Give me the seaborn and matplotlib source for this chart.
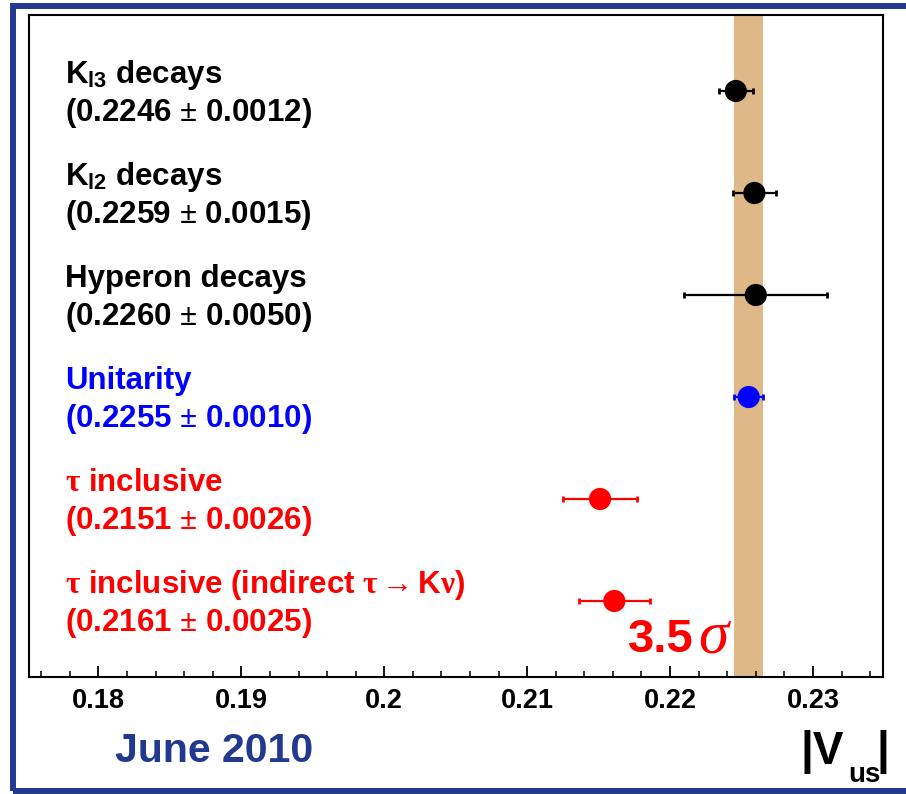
import matplotlib
matplotlib.use("Agg")
import matplotlib.pyplot as plt
import matplotlib.patches as mpatches
import matplotlib.transforms as mtransforms
from matplotlib.ticker import MultipleLocator, FixedLocator, FixedFormatter
import seaborn as sns
import pandas as pd

# ---- data ----
titles = [r"K$_{\mathregular{l3}}$ decays", r"K$_{\mathregular{l2}}$ decays",
          "Hyperon decays", "Unitarity",
          r"$\tau$ inclusive", r"$\tau$ inclusive (indirect $\tau\rightarrow$K$\nu$)"]
values = [0.2246, 0.2259, 0.2260, 0.2255, 0.2151, 0.2161]
errors = [0.0012, 0.0015, 0.0050, 0.0010, 0.0026, 0.0025]
groups = ["direct", "direct", "direct", "unitarity", "tau", "tau"]
group_colors = {"direct": "black", "unitarity": "#0000ff", "tau": "#ff0000"}
band_center, band_halfwidth = 0.2255, 0.0010
xticks = [0.18, 0.19, 0.20, 0.21, 0.22, 0.23]
xtick_labels = ["0.18", "0.19", "0.2", "0.21", "0.22", "0.23"]

rows = list(range(len(values)))
df = pd.DataFrame({"value": values, "err": errors, "row": rows, "group": groups})

sns.set_theme(style="ticks")
plt.rcParams["font.family"] = ["Liberation Sans", "DejaVu Sans"]
plt.rcParams["font.weight"] = "bold"
plt.rcParams["mathtext.fontset"] = "custom"
plt.rcParams["mathtext.rm"] = "Liberation Serif"
plt.rcParams["mathtext.it"] = "Liberation Serif:italic"
plt.rcParams["mathtext.bf"] = "Liberation Sans:bold"
plt.rcParams["mathtext.default"] = "rm"

fig = plt.figure(figsize=(9.06, 7.94), dpi=100)
ax = fig.add_axes([29 / 906, 1 - 677 / 794, (883 - 29) / 906, (677 - 15) / 794])

# unitarity band
ax.axvspan(band_center - band_halfwidth, band_center + band_halfwidth,
           color="burlywood", lw=0, zorder=0)

# error bars
for _, r in df.iterrows():
    ax.errorbar(r["value"], r["row"], xerr=r["err"], fmt="none",
                ecolor=group_colors[r["group"]], elinewidth=1.6,
                capsize=2.2, capthick=2.0, zorder=2)

sns.scatterplot(data=df, x="value", y="row", hue="group", palette=group_colors,
                s=255, linewidth=0, legend=False, ax=ax, zorder=3)

ax.set_xlim(0.17514, 0.23490)
ax.set_ylim(5.745, -0.745)
ax.set_xlabel("")
ax.set_ylabel("")
ax.set_yticks([])
ax.xaxis.set_major_locator(FixedLocator(xticks))
ax.xaxis.set_major_formatter(FixedFormatter(xtick_labels))
ax.xaxis.set_minor_locator(MultipleLocator(0.002))
ax.tick_params(axis="x", which="major", direction="in", length=8, width=1.3,
               bottom=True, top=False, pad=8, labelsize=19.5, colors="black")
ax.tick_params(axis="x", which="minor", direction="in", length=4, width=1.1,
               bottom=True, top=False, colors="black")
ax.tick_params(axis="y", left=False, right=False)
for lbl in ax.get_xticklabels():
    lbl.set_fontweight("bold")
for sp in ax.spines.values():
    sp.set_visible(True)
    sp.set_color("black")
    sp.set_linewidth(1.5)

# labels
label_x = (65 - 29) / (883 - 29)
trans = mtransforms.blended_transform_factory(ax.transAxes, ax.transData)
for t, v, e, g, r in zip(titles, values, errors, groups, rows):
    c = group_colors[g]
    ax.text(label_x, r - 0.075, t, transform=trans, ha="left", va="baseline",
            fontsize=22.5, fontweight="bold", color=c)
    ax.text(label_x, r + 0.295, f"({v:.4f} $\\pm$ {e:.4f})", transform=trans,
            ha="left", va="baseline", fontsize=22.5, fontweight="bold", color=c)

# 3.5 sigma
ax.text(0.21705, 5.5, "3.5", ha="left", va="baseline", fontsize=34,
        fontweight="bold", color="#ff0000", zorder=4)
ax.text(0.22195, 5.5, "\u03c3", ha="left", va="baseline", fontsize=44,
        family="Liberation Serif", style="italic", fontweight="normal",
        color="#ff0000", zorder=4)

# footer texts
fig.text(115 / 906, 1 - 762 / 794, "June 2010", ha="left", va="baseline",
         fontsize=29.5, fontweight="bold", color="#22398f")
fig.text(800 / 906, 1 - 764 / 794, "|V", ha="left", va="baseline",
         fontsize=33, fontweight="bold", color="black")
fig.text(848 / 906, 1 - 782 / 794, "us", ha="left", va="baseline",
         fontsize=20, fontweight="bold", color="black")
fig.text(876 / 906, 1 - 764 / 794, "|", ha="left", va="baseline",
         fontsize=33, fontweight="bold", color="black")

# outer blue frame
frame = mpatches.Rectangle((12.5, 3.5), 940, 794 - 6 - 3.5, transform=None,
                           fill=False, edgecolor="#22398f", linewidth=4.3,
                           zorder=10)
fig.patches.append(frame)

fig.savefig("out.png", dpi=100)
